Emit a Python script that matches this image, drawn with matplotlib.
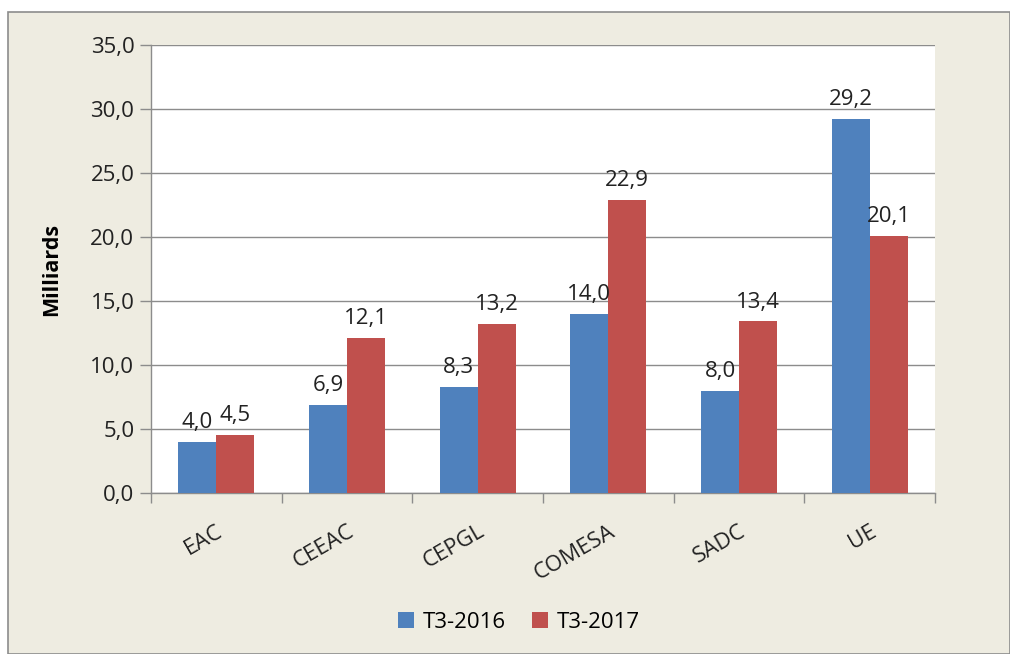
import matplotlib
matplotlib.use("Agg")

import matplotlib.pyplot as plt
import numpy as np
from matplotlib.patches import Rectangle

# données
categories = ["EAC", "CEEAC", "CEPGL", "COMESA", "SADC", "UE"]
t3_2016 = [4.0, 6.9, 8.3, 14.0, 8.0, 29.2]
t3_2017 = [4.5, 12.1, 13.2, 22.9, 13.4, 20.1]
series_names = ["T3-2016", "T3-2017"]
y_ticks = [0, 5, 10, 15, 20, 25, 30, 35]

plt.rcParams["font.family"] = ["Open Sans", "DejaVu Sans"]

W, H = 1010, 654
fig = plt.figure(figsize=(W / 100, H / 100), dpi=100, facecolor="white")

# fond beige de la zone du graphique
bg = Rectangle((8 / W, 0), 1 - 8 / W, 1 - 12 / H, transform=fig.transFigure,
               facecolor="#EEECE1", edgecolor="#8C8C8C", linewidth=1.2, zorder=-10)
fig.add_artist(bg)

ax = fig.add_axes([151 / W, 1 - 493 / H, (935 - 151) / W, (493 - 45) / H])
ax.set_facecolor("white")

x = np.arange(len(categories))
w = 0.29
b1 = ax.bar(x - w / 2, t3_2016, w, color="#4F81BD", label=series_names[0], zorder=3)
b2 = ax.bar(x + w / 2, t3_2017, w, color="#C0504D", label=series_names[1], zorder=3)

fmt = lambda v: f"{v:.1f}".replace(".", ",")
for bars, vals in ((b1, t3_2016), (b2, t3_2017)):
    for rect, v in zip(bars, vals):
        ax.text(rect.get_x() + rect.get_width() / 2, v + 0.7, fmt(v),
                ha="center", va="bottom", fontsize=16, color="#222222", zorder=4)

ax.set_xlim(-0.5, len(categories) - 0.5)
ax.set_ylim(0, 35)
ax.set_yticks(y_ticks)
ax.set_yticklabels([fmt(v) for v in y_ticks], fontsize=16, color="#222222")
ax.yaxis.grid(True, color="#8C8C8C", linewidth=1.0, zorder=0)
ax.set_axisbelow(True)

ax.set_xticks(x)
ax.set_xticklabels(categories, rotation=30, ha="right", rotation_mode="anchor",
                   fontsize=16, color="#222222")
ax.tick_params(axis="x", length=0, pad=20)
# petites graduations entre les catégories
ax.set_xticks(np.arange(-0.5, len(categories)), minor=True)
ax.tick_params(axis="x", which="minor", length=7, color="#8C8C8C", width=1.0)
ax.tick_params(axis="y", length=8, color="#8C8C8C", width=1.0, pad=4)

for s in ("top", "right"):
    ax.spines[s].set_visible(False)
for s in ("left", "bottom"):
    ax.spines[s].set_color("#8C8C8C")
    ax.spines[s].set_linewidth(1.0)

ax.set_ylabel("Milliards", fontsize=15.5, fontweight="bold", labelpad=20)

fig.legend(handles=[b1, b2], loc="center", bbox_to_anchor=(519 / W, 1 - 622 / H),
           ncol=2, frameon=False, fontsize=16, handlelength=0.7, handleheight=0.7,
           columnspacing=1.2, handletextpad=0.4)

fig.savefig("out.png", dpi=100, facecolor=fig.get_facecolor())
